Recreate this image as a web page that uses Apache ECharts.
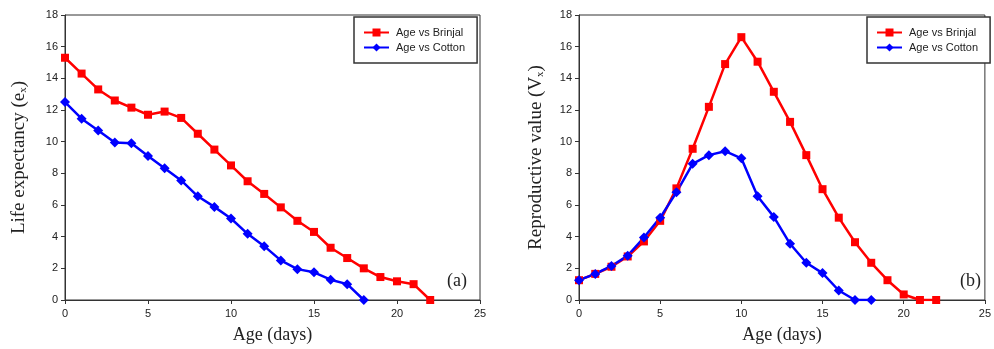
<!DOCTYPE html>
<html>
<head>
<meta charset="utf-8">
<script src="https://cdn.jsdelivr.net/npm/echarts@6/dist/echarts.min.js"></script>
<style>
  html, body { margin: 0; padding: 0; background: #fff; }
  #chart { width: 994px; height: 349px; }
</style>
</head>
<body>
<div id="chart"></div>
<script>
// ages (days) for each series
const brinjalAges = [0, 1, 2, 3, 4, 5, 6, 7, 8, 9, 10, 11, 12, 13, 14, 15, 16, 17, 18, 19, 20, 21, 22]
const cottonAges = [0, 1, 2, 3, 4, 5, 6, 7, 8, 9, 10, 11, 12, 13, 14, 15, 16, 17, 18]

// (a) life expectancy e_x
const lifeBrinjal = [15.3, 14.3, 13.3, 12.6, 12.15, 11.7, 11.9, 11.5, 10.5, 9.5, 8.5, 7.5, 6.7, 5.85, 5.0, 4.3, 3.3, 2.65, 2.0, 1.45, 1.18, 1.0, 0]
const lifeCotton = [12.5, 11.45, 10.7, 9.95, 9.9, 9.1, 8.32, 7.55, 6.55, 5.88, 5.15, 4.18, 3.4, 2.5, 1.95, 1.75, 1.28, 1.0, 0]

// (b) reproductive value V_x
const reproBrinjal = [1.25, 1.65, 2.1, 2.75, 3.7, 5.0, 7.05, 9.55, 12.2, 14.9, 16.6, 15.05, 13.15, 11.25, 9.15, 7.0, 5.2, 3.65, 2.35, 1.25, 0.35, 0, 0]
const reproCotton = [1.25, 1.65, 2.15, 2.8, 3.95, 5.2, 6.8, 8.6, 9.15, 9.4, 8.95, 6.55, 5.25, 3.55, 2.35, 1.7, 0.6, 0, 0]

const xTicks = { min: 0, max: 25, interval: 5 }
const yTicks = { min: 0, max: 18, interval: 2 }

const RED = '#ff0000'
const BLUE = '#0000ff'
const AXIS = '#333333'
const SANS = '"Liberation Sans", Arial, sans-serif'
const SERIF = '"Liberation Serif", "Times New Roman", serif'

const pairs = (xs, ys) => xs.map((x, i) => [x, ys[i]])

const chart = echarts.init(document.getElementById('chart'), null, { renderer: 'canvas' })

function xAxisFor(gridIndex) {
  return {
    type: 'value',
    gridIndex,
    ...xTicks,
    name: 'Age (days)',
    nameLocation: 'middle',
    nameGap: 26,
    nameTextStyle: { fontFamily: SERIF, fontSize: 18, color: '#222' },
    axisLine: { lineStyle: { color: AXIS, width: 1 } },
    axisTick: { show: true, length: 4, lineStyle: { color: AXIS } },
    axisLabel: { fontFamily: SANS, fontSize: 11, color: '#222', margin: 8 },
    splitLine: { show: false },
  }
}

function yAxisFor(gridIndex, label, nameGap) {
  return {
    type: 'value',
    gridIndex,
    ...yTicks,
    name: label,
    nameLocation: 'middle',
    nameGap,
    nameTextStyle: {
      fontFamily: SERIF,
      fontSize: 19,
      color: '#222',
      rich: { sub: { fontFamily: SERIF, fontSize: 11, color: '#222', padding: [0, 0, -8, 0] } },
    },
    axisLine: { show: true, lineStyle: { color: AXIS, width: 1 } },
    axisTick: { show: true, length: 4, lineStyle: { color: AXIS } },
    axisLabel: { fontFamily: SANS, fontSize: 11, color: '#222', margin: 7 },
    splitLine: { show: false },
  }
}

function legendAt(left) {
  return {
    orient: 'vertical',
    left,
    top: 17,
    padding: [10, 12, 10, 9],
    itemWidth: 25,
    itemHeight: 10,
    itemGap: 4,
    borderColor: AXIS,
    borderWidth: 1.5,
    backgroundColor: '#fff',
    textStyle: { fontFamily: SANS, fontSize: 11, color: '#222', padding: [0, 0, 0, 2] },
    data: ['Age vs Brinjal', 'Age vs Cotton'],
  }
}

function lineSeries(name, color, symbol, symbolSize, data, idx) {
  return {
    name,
    type: 'line',
    xAxisIndex: idx,
    yAxisIndex: idx,
    data,
    symbol,
    symbolSize,
    lineStyle: { color, width: 2.5 },
    itemStyle: { color },
    emphasis: { disabled: true },
    animation: false,
  }
}

const option = {
  backgroundColor: '#fff',
  animation: false,
  grid: [
    { left: 65, top: 15, width: 415, height: 290, show: true, borderColor: AXIS, borderWidth: 1 },
    { left: 579, top: 15, width: 414, height: 290, show: true, borderColor: AXIS, borderWidth: 1 },
  ],
  xAxis: [xAxisFor(0), xAxisFor(1)],
  yAxis: [
    yAxisFor(0, 'Life expectancy (e{sub|x})', 36),
    yAxisFor(1, 'Reproductive value (V{sub|x})', 33),
  ],
  legend: [legendAt(354), legendAt(867)],
  series: [
    lineSeries('Age vs Brinjal', RED, 'rect', 8, pairs(brinjalAges, lifeBrinjal), 0),
    lineSeries('Age vs Cotton', BLUE, 'diamond', 10, pairs(cottonAges, lifeCotton), 0),
    lineSeries('Age vs Brinjal', RED, 'rect', 8, pairs(brinjalAges, reproBrinjal), 1),
    lineSeries('Age vs Cotton', BLUE, 'diamond', 10, pairs(cottonAges, reproCotton), 1),
  ],
  graphic: [
    { type: 'text', left: 447, top: 272, style: { text: '(a)', font: '18px ' + SERIF, fill: '#222' } },
    { type: 'text', left: 960, top: 272, style: { text: '(b)', font: '18px ' + SERIF, fill: '#222' } },
  ],
}

chart.setOption(option)
</script>
</body>
</html>
